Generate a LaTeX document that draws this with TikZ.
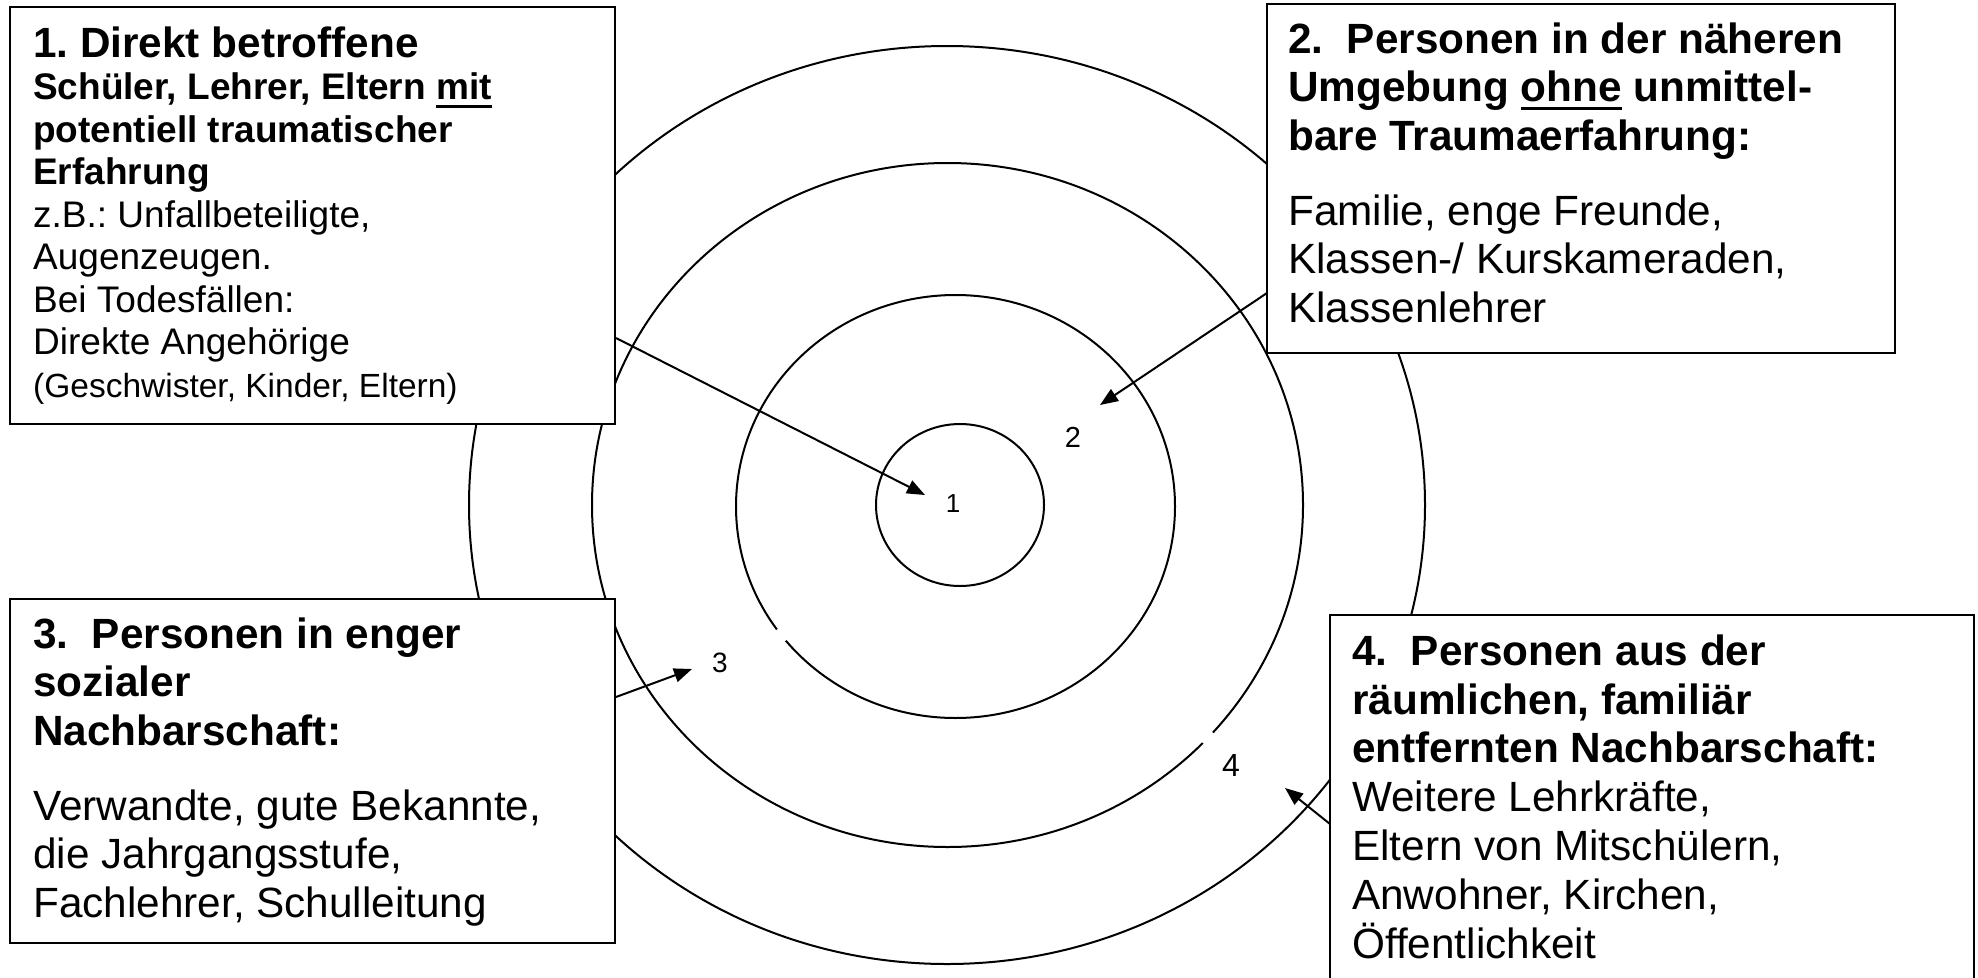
\documentclass[tikz,border=0pt]{standalone}
\usepackage{fontspec}
\setmainfont{Liberation Sans}[Ligatures=CommonOff]
\usetikzlibrary{arrows.meta}
\frenchspacing
\newcommand\myul[1]{\setbox0=\hbox{#1}\rlap{\rule[-8pt]{\wd0}{2.6pt}}\box0\relax}
\begin{document}
\begin{tikzpicture}[x=1pt,y=-1pt,
  ring/.style={draw, line width=2pt},
  panel/.style={draw, line width=2.5pt, fill=white, anchor=north west, inner sep=0pt, outer sep=0pt},
  paneltext/.style={anchor=base west, align=left, inner sep=0pt},
  num/.style={inner sep=0pt},
  pointer/.style={line width=2pt, -{Triangle[length=18pt,width=14pt]}}]
\clip (0,0) rectangle (1978,977);
\fill[white] (0,0) rectangle (1978,977);
% rings
\draw[ring] (947,505) ellipse [x radius=478pt, y radius=459pt];
\draw[ring] (947.5,505) ellipse [x radius=355.5pt, y radius=342pt];
\draw[ring] (955.5,506.5) ellipse [x radius=219.5pt, y radius=211.5pt];
\draw[ring] (960,505) ellipse [x radius=84pt, y radius=81pt];
% small gaps in rings
\draw[white, line width=5pt] (778,629) -- (785,641);
\draw[white, line width=5pt] (1203,743) -- (1212,732);
% panels
\node[panel, minimum width=605pt, minimum height=417pt] (b1) at (10,7) {};
\node[panel, minimum width=628pt, minimum height=349pt] (b2) at (1267,4) {};
\node[panel, minimum width=605pt, minimum height=344pt] (b3) at (10,599) {};
\node[panel, minimum width=644pt, minimum height=400pt] (b4) at (1330,615) {};
% panel texts (anchored at the baseline of their last line)
\node[paneltext, font=\fontsize{37}{42.5}\selectfont] (t1) at (33,397)
 {{\fontsize{42.3}{42.5}\selectfont\bfseries 1. Direkt betroffene}\\
  {\bfseries Schüler, Lehrer, Eltern \myul{mit}}\\
  {\bfseries potentiell traumatischer}\\
  {\bfseries Erfahrung}\\
  z.B.: Unfallbeteiligte,\\
  Augenzeugen.\\
  Bei Todesfällen:\\
  Direkte Angehörige\\
  {\fontsize{33.5}{42.5}\selectfont (Geschwister, Kinder, Eltern)}};
\node[paneltext, font=\fontsize{42.3}{48.5}\selectfont] (t2) at (1288,322)
 {{\bfseries 2.\ \ Personen in der näheren}\\
  {\bfseries Umgebung \myul{ohne} unmittel-}\\
  {\bfseries bare Traumaerfahrung:}\\[26.5pt]
  Familie, enge Freunde,\\
  Klassen-/ Kurskameraden,\\
  Klassenlehrer};
\node[paneltext, font=\fontsize{42.3}{48.5}\selectfont] (t3) at (33,917)
 {{\bfseries 3.\ \ Personen in enger}\\
  {\bfseries sozialer}\\
  {\bfseries Nachbarschaft:}\\[26.5pt]
  Verwandte, gute Bekannte,\\
  die Jahrgangsstufe,\\
  Fachlehrer, Schulleitung};
\node[paneltext, font=\fontsize{42.3}{48.8}\selectfont] (t4) at (1352,958)
 {{\bfseries 4.\ \ Personen aus der}\\
  {\bfseries räumlichen, familiär}\\
  {\bfseries entfernten Nachbarschaft:}\\
  Weitere Lehrkräfte,\\
  Eltern von Mitschülern,\\
  Anwohner, Kirchen,\\
  Öffentlichkeit};
% ring numbers
\node[num, font=\fontsize{26}{30}\selectfont] (n1) at (953,504) {1};
\node[num, font=\fontsize{29}{33}\selectfont] (n2) at (1073,437) {2};
\node[num, font=\fontsize{28}{32}\selectfont] (n3) at (720,663) {3};
\node[num, font=\fontsize{32}{36}\selectfont] (n4) at (1231,765) {4};
% pointers
\coordinate (a1s) at (616,338);  \coordinate (a1e) at (925,495);
\coordinate (a2s) at (1267,293); \coordinate (a2e) at (1100,405);
\coordinate (a3s) at (616,697);  \coordinate (a3e) at (692,669);
\coordinate (a4s) at (1330,824); \coordinate (a4e) at (1285,788);
\draw[pointer] (a1s) -- (a1e);
\draw[pointer] (a2s) -- (a2e);
\draw[pointer] (a3s) -- (a3e);
\draw[pointer] (a4s) -- (a4e);
\end{tikzpicture}
\end{document}
